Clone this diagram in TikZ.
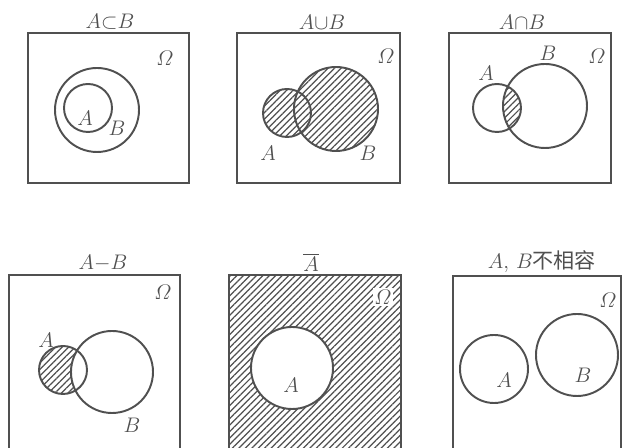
\documentclass[tikz,border=0pt]{standalone}
\usepackage{amsmath}
\usepackage{fontspec}
\newfontfamily\cjk{Noto Sans CJK SC}
\usetikzlibrary{patterns.meta}
\definecolor{ink}{RGB}{80,80,80}
\tikzset{
  frame/.style={draw=ink, line width=1.3pt},
  set/.style={draw=ink, line width=1.1pt},
  hatch/.style={pattern={Lines[angle=45,distance=2.6pt,line width=0.7pt]}, pattern color=ink},
  lbl/.style={text=ink, inner sep=1pt},
}
\begin{document}
\begin{tikzpicture}[x=0.02cm, y=-0.02cm, font=\fontsize{12}{14}\selectfont]
  \useasboundingbox (0,0) rectangle (623,448);
  \clip (0,0) rectangle (623,448);
  \fill[white] (0,0) rectangle (623,448);

  % A subset B
  \draw[frame] (28,33) rectangle (189,183);
  \draw[set] (97,110) circle [radius=42];
  \draw[set] (88,108) circle [radius=24];
  \node[lbl] (t1) at (110,22) {$A{\subset}B$};
  \node[lbl] (o1) at (165,58) {$\varOmega$};
  \node[lbl] (a1) at (85,118) {$A$};
  \node[lbl] (b1) at (117,128) {$B$};

  % A union B
  \draw[frame] (237,33) rectangle (400,183);
  \fill[hatch] (287,113) circle [radius=24] (336,109) circle [radius=42];
  \draw[set] (287,113) circle [radius=24];
  \draw[set] (336,109) circle [radius=42];
  \node[lbl] (t2) at (322,22) {$A{\cup}B$};
  \node[lbl] (o2) at (386,56) {$\varOmega$};
  \node[lbl] (a2) at (268,153) {$A$};
  \node[lbl] (b2) at (368,153) {$B$};

  % A cap B
  \draw[frame] (449,33) rectangle (611,183);
  \begin{scope}
    \clip (497,108) circle [radius=24];
    \fill[hatch] (545,106) circle [radius=42];
  \end{scope}
  \draw[set] (497,108) circle [radius=24];
  \draw[set] (545,106) circle [radius=42];
  \node[lbl] (t3) at (522,22) {$A{\cap}B$};
  \node[lbl] (o3) at (597,56) {$\varOmega$};
  \node[lbl] (a3) at (486,73) {$A$};
  \node[lbl] (b3) at (548,53) {$B$};

  % A minus B
  \draw[frame] (9,275) rectangle (180,470);
  \begin{scope}
    \clip (63,370) circle [radius=24];
    \fill[hatch] (39,346) rectangle (87,394);
    \fill[white] (112,372) circle [radius=41];
  \end{scope}
  \draw[set] (63,370) circle [radius=24];
  \draw[set] (112,372) circle [radius=41];
  \node[lbl] (t4) at (103,263) {$A{-}B$};
  \node[lbl] (o4) at (163,292) {$\varOmega$};
  \node[lbl] (a4) at (46,340) {$A$};
  \node[lbl] (b4) at (132,425) {$B$};

  % complement of A
  \fill[hatch] (229,275) rectangle (401,470);
  \fill[white] (292,368) circle [radius=41];
  \draw[frame] (229,275) rectangle (401,470);
  \draw[set] (292,368) circle [radius=41];
  \node[lbl] (t5) at (311,262) {$\overline{A}$};
  \node[lbl, fill=white] (o5) at (383,297) {$\varOmega$};
  \node[lbl] (a5) at (291,385) {$A$};

  % A, B disjoint
  \draw[frame] (453,276) rectangle (621,470);
  \draw[set] (494,369) circle [radius=34];
  \draw[set] (577,355) circle [radius=41];
  \node[lbl] (t6) at (542,262) {$A$, $B${\cjk 不相容}};
  \node[lbl] (o6) at (608,300) {$\varOmega$};
  \node[lbl] (a6) at (504,380) {$A$};
  \node[lbl] (b6) at (583,375) {$B$};
\end{tikzpicture}
\end{document}
